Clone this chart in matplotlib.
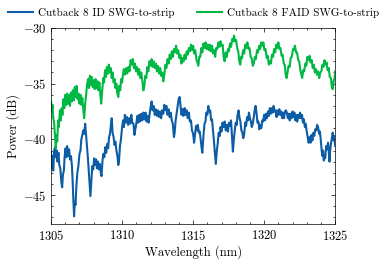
import numpy as np
import matplotlib
matplotlib.use('Agg')
import matplotlib.pyplot as plt
from matplotlib.ticker import MultipleLocator

# traced spectra, wavelength (nm) and power (dB)
wl_faid = [1305.00, 1305.05, 1305.10, 1305.15, 1305.22, 1305.28, 1305.33, 1305.38, 1305.43, 1305.50,
           1305.55, 1305.62, 1305.68, 1305.75, 1305.80, 1305.87, 1305.93, 1306.00, 1306.07, 1306.13,
           1306.20, 1306.27, 1306.33, 1306.40, 1306.47, 1306.53, 1306.60, 1306.67, 1306.73, 1306.80,
           1306.87, 1306.93, 1307.00, 1307.07, 1307.13, 1307.20, 1307.27, 1307.33, 1307.40, 1307.47,
           1307.53, 1307.60, 1307.67, 1307.73, 1307.80, 1307.87, 1307.93, 1308.00, 1308.07, 1308.13,
           1308.20, 1308.27, 1308.33, 1308.40, 1308.47, 1308.53, 1308.60, 1308.67, 1308.73, 1308.80,
           1308.87, 1308.93, 1309.00, 1309.07, 1309.13, 1309.20, 1309.27, 1309.33, 1309.40, 1309.47,
           1309.53, 1309.60, 1309.67, 1309.73, 1309.80, 1309.87, 1309.93, 1310.00,
           1310.05, 1310.12, 1310.20, 1310.28, 1310.36, 1310.45, 1310.52, 1310.60, 1310.67, 1310.75,
           1310.83, 1310.90, 1310.98, 1311.05, 1311.13, 1311.20, 1311.28, 1311.35, 1311.43, 1311.50,
           1311.57, 1311.63, 1311.70, 1311.78, 1311.85, 1311.93, 1312.00, 1312.08, 1312.15, 1312.23,
           1312.30, 1312.38, 1312.45, 1312.53, 1312.60, 1312.68, 1312.75, 1312.83, 1312.90, 1312.97,
           1313.05, 1313.12, 1313.20, 1313.28, 1313.35, 1313.43, 1313.50, 1313.58, 1313.65, 1313.73,
           1313.80, 1313.88, 1313.95, 1314.03, 1314.10, 1314.18, 1314.25, 1314.33, 1314.40, 1314.48,
           1314.55, 1314.63, 1314.70, 1314.78, 1314.85, 1314.93, 1315.00, 1315.08, 1315.15, 1315.23,
           1315.30, 1315.37, 1315.43, 1315.50, 1315.58, 1315.65, 1315.73, 1315.80, 1315.88, 1315.95,
           1316.03, 1316.10, 1316.18, 1316.25, 1316.33, 1316.40, 1316.48, 1316.55, 1316.63, 1316.70,
           1316.78, 1316.85, 1316.93, 1317.00, 1317.08, 1317.15, 1317.22, 1317.30, 1317.37, 1317.45,
           1317.52, 1317.60, 1317.67, 1317.75, 1317.82, 1317.88, 1317.95, 1318.03, 1318.10, 1318.18,
           1318.25, 1318.32, 1318.38, 1318.45, 1318.52, 1318.60, 1318.67, 1318.75, 1318.82, 1318.90,
           1318.97, 1319.05, 1319.12, 1319.20, 1319.27, 1319.35, 1319.42, 1319.50, 1319.57, 1319.65,
           1319.72, 1319.80, 1319.87, 1319.95, 1320.02, 1320.10, 1320.18, 1320.25, 1320.33, 1320.40,
           1320.48, 1320.55, 1320.63, 1320.70, 1320.78, 1320.85, 1320.93, 1321.00, 1321.08, 1321.15,
           1321.23, 1321.30, 1321.38, 1321.45, 1321.52, 1321.58, 1321.65, 1321.72, 1321.80, 1321.87,
           1321.95, 1322.03, 1322.10, 1322.17, 1322.25, 1322.32, 1322.40, 1322.47, 1322.55, 1322.62,
           1322.68, 1322.75, 1322.82, 1322.90, 1322.97, 1323.05, 1323.12, 1323.20, 1323.27, 1323.35,
           1323.42, 1323.50, 1323.57, 1323.65, 1323.72, 1323.80, 1323.88, 1323.95, 1324.03, 1324.10,
           1324.18, 1324.25, 1324.32, 1324.40, 1324.47, 1324.55, 1324.62, 1324.70, 1324.77, 1324.83,
           1324.90, 1324.95, 1325.00]
pw_faid = [-36.6, -37.5, -36.9, -38.0, -38.6, -39.8, -40.8, -39.6, -40.2, -38.3,
           -38.9, -37.4, -38.3, -37.2, -37.8, -36.4, -37.2, -36.0, -36.9, -35.9,
           -36.8, -36.0, -37.0, -35.8, -36.6, -35.6, -36.5, -35.3, -36.2, -35.2,
           -36.4, -35.9, -36.8, -36.0, -36.9, -36.3, -37.4, -38.1, -36.8, -36.0,
           -35.1, -34.6, -35.4, -34.3, -35.1, -34.4, -35.3, -34.7, -35.5, -34.6,
           -35.4, -34.8, -35.6, -34.9, -36.0, -36.8, -35.6, -34.5, -34.9, -33.8,
           -34.4, -33.5, -34.1, -33.3, -34.0, -33.6, -34.5, -34.0, -34.9, -34.6,
           -35.4, -35.0, -35.9, -36.2, -35.2, -35.6, -34.6, -34.9,
           -34.3, -33.7, -34.2, -33.6, -34.1, -33.5, -33.9, -32.9, -33.3, -32.8,
           -33.6, -33.2, -33.9, -33.5, -34.2, -33.7, -34.5, -34.0, -34.8, -35.6,
           -35.2, -34.3, -34.5, -33.5, -33.9, -33.0, -33.4, -32.8, -33.5, -33.0,
           -33.6, -33.2, -33.9, -33.4, -34.1, -33.6, -34.3, -34.0, -34.8, -34.2,
           -33.3, -33.6, -32.8, -33.2, -32.4, -32.8, -32.1, -32.6, -31.9, -32.2,
           -31.6, -32.3, -32.0, -32.7, -32.4, -33.2, -32.7, -33.0, -32.4, -32.8,
           -32.1, -32.4, -31.8, -32.1, -31.5, -32.0, -31.6, -32.3, -32.0, -32.8,
           -33.1, -33.4, -32.6, -32.6, -31.8, -32.2, -31.4, -31.8, -31.3, -31.9,
           -31.5, -32.0, -31.5, -32.1, -31.6, -32.3, -32.0, -32.6, -31.8, -31.9,
           -31.3, -31.7, -31.2, -31.6, -31.5, -32.6, -33.0, -32.2, -32.6, -31.9,
           -32.1, -31.4, -31.7, -31.0, -31.2, -30.7, -31.2, -31.1, -31.8, -32.1,
           -33.0, -33.3, -32.6, -32.7, -32.0, -32.3, -31.5, -31.8, -31.3, -31.9,
           -31.8, -32.6, -32.7, -33.4, -33.2, -32.6, -32.8, -32.0, -32.2, -31.6,
           -31.9, -31.3, -31.6, -31.3, -32.0, -31.9, -32.7, -32.5, -33.3, -33.0,
           -33.2, -32.4, -32.6, -31.9, -32.2, -31.5, -31.8, -31.3, -31.9, -31.8,
           -32.5, -32.4, -33.2, -33.3, -34.2, -34.5, -34.0, -33.4, -33.5, -32.7,
           -32.6, -31.9, -32.0, -31.6, -32.2, -32.2, -32.9, -33.0, -33.8, -34.2,
           -34.5, -33.8, -33.9, -33.2, -33.4, -32.6, -32.9, -32.5, -33.1, -32.9,
           -33.6, -33.3, -34.0, -33.7, -34.2, -33.9, -34.5, -34.0, -33.9, -33.3,
           -33.5, -32.9, -33.3, -33.1, -33.8, -33.6, -34.4, -34.5, -35.3, -35.5,
           -34.7, -34.6, -33.9]

wl_id = [1305.00, 1305.05, 1305.10, 1305.15, 1305.22, 1305.28, 1305.33, 1305.40, 1305.45, 1305.52,
         1305.58, 1305.65, 1305.72, 1305.78, 1305.83, 1305.90, 1305.95, 1306.02, 1306.08, 1306.13,
         1306.20, 1306.27, 1306.33, 1306.40, 1306.47, 1306.52, 1306.57, 1306.62, 1306.67, 1306.72,
         1306.78, 1306.85, 1306.92, 1307.00, 1307.07, 1307.13, 1307.20, 1307.27, 1307.33, 1307.40,
         1307.47, 1307.53, 1307.60, 1307.65, 1307.72, 1307.77, 1307.83, 1307.90, 1307.97, 1308.03,
         1308.10, 1308.17, 1308.23, 1308.30, 1308.37, 1308.43, 1308.50, 1308.55, 1308.62, 1308.68,
         1308.75, 1308.82, 1308.88, 1308.95, 1309.02, 1309.08, 1309.15, 1309.22, 1309.27, 1309.33,
         1309.40, 1309.47, 1309.53, 1309.60, 1309.67, 1309.73, 1309.78, 1309.85, 1309.92, 1310.00,
         1310.07, 1310.13, 1310.20, 1310.27, 1310.35, 1310.42, 1310.50, 1310.57, 1310.65, 1310.72,
         1310.80, 1310.87, 1310.93, 1311.00, 1311.07, 1311.13, 1311.20, 1311.27, 1311.35, 1311.42,
         1311.50, 1311.57, 1311.65, 1311.72, 1311.80, 1311.87, 1311.95, 1312.02, 1312.08, 1312.15,
         1312.22, 1312.30, 1312.37, 1312.45, 1312.52, 1312.60, 1312.67, 1312.75, 1312.82, 1312.90,
         1312.97, 1313.05, 1313.12, 1313.20, 1313.27, 1313.35, 1313.42, 1313.50, 1313.57, 1313.65,
         1313.70, 1313.77, 1313.85, 1313.92, 1313.98, 1314.05, 1314.12, 1314.18, 1314.25, 1314.32,
         1314.40, 1314.47, 1314.55, 1314.62, 1314.70, 1314.77, 1314.85, 1314.92, 1315.00, 1315.07,
         1315.13, 1315.20, 1315.27, 1315.33, 1315.40, 1315.47, 1315.55, 1315.60, 1315.65, 1315.72,
         1315.80, 1315.87, 1315.93, 1316.00, 1316.07, 1316.13, 1316.20, 1316.27, 1316.33, 1316.40,
         1316.47, 1316.53, 1316.60, 1316.67, 1316.73, 1316.80, 1316.87, 1316.93, 1317.00, 1317.07,
         1317.15, 1317.22, 1317.30, 1317.37, 1317.45, 1317.52, 1317.60, 1317.67, 1317.73, 1317.80,
         1317.87, 1317.93, 1318.00, 1318.07, 1318.13, 1318.20, 1318.27, 1318.33, 1318.40, 1318.47,
         1318.53, 1318.60, 1318.67, 1318.73, 1318.80, 1318.87, 1318.93, 1319.00, 1319.07, 1319.13,
         1319.20, 1319.27, 1319.33, 1319.40, 1319.47, 1319.53, 1319.60, 1319.67, 1319.73, 1319.80,
         1319.87, 1319.93, 1320.00, 1320.07, 1320.13, 1320.20, 1320.27, 1320.33, 1320.40, 1320.47,
         1320.53, 1320.60, 1320.67, 1320.73, 1320.80, 1320.87, 1320.93, 1321.00, 1321.07, 1321.13,
         1321.20, 1321.27, 1321.33, 1321.40, 1321.47, 1321.53, 1321.60, 1321.67, 1321.73, 1321.80,
         1321.87, 1321.93, 1322.00, 1322.07, 1322.13, 1322.20, 1322.27, 1322.33, 1322.40, 1322.47,
         1322.53, 1322.60, 1322.67, 1322.73, 1322.80, 1322.87, 1322.93, 1323.00, 1323.07, 1323.13,
         1323.20, 1323.27, 1323.33, 1323.40, 1323.47, 1323.53, 1323.60, 1323.67, 1323.73, 1323.80,
         1323.87, 1323.93, 1324.00, 1324.05, 1324.10, 1324.15, 1324.20, 1324.25, 1324.30, 1324.37,
         1324.43, 1324.50, 1324.55, 1324.60, 1324.65, 1324.70, 1324.77, 1324.83, 1324.90, 1324.95,
         1325.00]
pw_id = [-41.2, -42.6, -41.5, -42.8, -41.0, -40.7, -41.6, -41.0, -42.0, -41.2,
         -42.3, -42.6, -43.8, -44.3, -43.2, -42.8, -41.6, -40.8, -41.6, -40.6,
         -41.5, -40.9, -41.8, -41.5, -42.4, -43.8, -45.5, -46.9, -45.6, -45.9,
         -44.2, -43.0, -42.4, -41.3, -41.0, -40.0, -39.6, -39.2, -39.5, -38.6,
         -39.7, -40.6, -41.8, -42.8, -44.3, -45.1, -43.8, -42.4, -42.7, -41.7,
         -42.3, -41.8, -42.6, -42.0, -42.7, -42.2, -43.0, -43.3, -41.9, -41.3,
         -41.6, -40.7, -41.2, -40.4, -40.8, -39.8, -39.5, -38.6, -38.1, -39.4,
         -39.8, -40.5, -40.2, -41.0, -41.5, -42.3, -42.0, -40.6, -40.0, -38.9,
         -38.3, -38.9, -37.8, -38.5, -38.0, -38.7, -38.1, -38.6, -37.8, -38.5,
         -38.6, -39.6, -39.1, -38.6, -37.9, -38.5, -37.8, -38.4, -37.7, -38.3,
         -37.6, -38.2, -37.6, -38.4, -37.9, -38.5, -37.6, -37.0, -36.6, -37.4,
         -37.0, -37.8, -37.3, -37.9, -37.4, -38.0, -37.5, -38.1, -37.4, -37.7,
         -36.9, -37.4, -37.0, -37.8, -37.3, -38.0, -37.6, -38.3, -38.6, -39.8,
         -39.4, -38.3, -37.6, -37.0, -36.4, -36.2, -37.1, -37.8, -37.3, -37.9,
         -37.2, -37.8, -37.4, -38.1, -37.6, -38.4, -38.3, -39.2, -39.5, -40.3,
         -39.6, -38.8, -39.2, -38.7, -39.4, -39.3, -40.2, -40.8, -41.2, -39.8,
         -38.6, -38.4, -37.6, -37.8, -37.0, -37.5, -37.4, -38.3, -38.2, -39.2,
         -40.2, -41.2, -42.2, -41.0, -40.4, -39.4, -39.7, -38.9, -39.3, -38.5,
         -38.9, -38.4, -39.2, -38.7, -39.3, -38.5, -38.8, -38.3, -39.6, -41.1,
         -40.0, -39.2, -38.5, -38.7, -37.8, -37.4, -38.1, -38.4, -39.2, -39.4,
         -39.9, -39.5, -38.5, -38.8, -38.0, -38.3, -37.6, -38.1, -38.4, -38.9,
         -38.6, -38.0, -37.4, -37.0, -37.7, -38.5, -38.4, -39.1, -38.7, -39.0,
         -38.3, -38.4, -37.8, -38.3, -37.7, -38.1, -37.5, -37.9, -37.2, -37.7,
         -37.2, -37.6, -37.0, -37.5, -37.4, -38.0, -37.4, -37.8, -37.3, -37.8,
         -37.5, -38.1, -37.6, -38.1, -37.5, -37.4, -37.6, -38.1, -37.7, -38.3,
         -37.7, -38.1, -37.5, -38.0, -37.6, -38.3, -37.8, -38.4, -37.8, -38.1,
         -37.6, -38.1, -37.8, -38.5, -38.2, -38.9, -38.6, -39.3, -39.8, -40.3,
         -39.8, -40.3, -39.6, -40.1, -39.4, -39.7, -39.1, -39.2, -38.7, -38.9,
         -39.5, -39.3, -40.2, -41.0, -41.5, -41.0, -41.9, -41.5, -41.7, -40.6,
         -40.9, -40.3, -41.0, -42.0, -41.0, -40.4, -39.9, -39.4, -40.1, -39.7,
         -40.6]

labels = ['Cutback 8 ID SWG-to-strip', 'Cutback 8 FAID SWG-to-strip']

plt.rcParams['font.family'] = 'cmr10'
plt.rcParams['mathtext.fontset'] = 'cm'
plt.rcParams['axes.formatter.use_mathtext'] = True
plt.rcParams['font.size'] = 9

fig = plt.figure(figsize=(3.87, 2.63), dpi=100)
ax = fig.add_axes([0.132, 0.148, 0.734, 0.746])

ax.plot(wl_id, pw_id, color='#0C5DA5', lw=1.5, label=labels[0])
ax.plot(wl_faid, pw_faid, color='#00B945', lw=1.5, label=labels[1])

ax.set_xlim(1305, 1325)
ax.set_ylim(-47.6, -30)
ax.xaxis.set_major_locator(MultipleLocator(5))
ax.xaxis.set_minor_locator(MultipleLocator(1))
ax.yaxis.set_major_locator(MultipleLocator(5))
ax.yaxis.set_minor_locator(MultipleLocator(1))

ax.tick_params(which='both', direction='in', top=True, right=True, width=0.5)
ax.tick_params(which='major', length=3)
ax.tick_params(which='minor', length=1.5)
for axis in ['top', 'bottom', 'left', 'right']:
    ax.spines[axis].set_linewidth(0.5)

ax.set_xlabel('Wavelength (nm)', labelpad=2)
ax.set_ylabel('Power (dB)', labelpad=2)

fig.legend(loc='center', bbox_to_anchor=(0.5, 0.95), ncol=2, frameon=False,
           fontsize=8, handlelength=2.25, handletextpad=0.5, columnspacing=2.0)

plt.savefig('out.png', dpi=100)
